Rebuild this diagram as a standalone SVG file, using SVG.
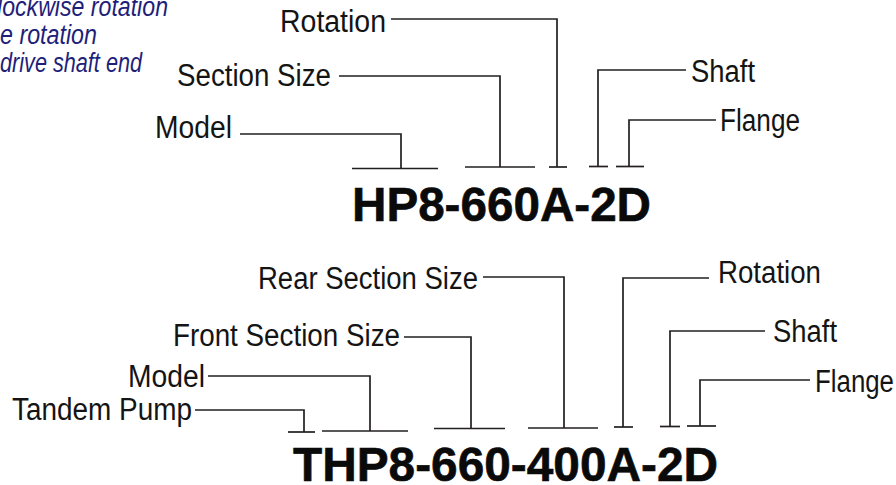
<svg xmlns="http://www.w3.org/2000/svg" width="896" height="485" viewBox="0 0 896 485">
<style>
.lbl{font-family:"Liberation Sans",Arial,sans-serif;font-size:31px;fill:#141414}
.code{font-family:"Liberation Sans",Arial,sans-serif;font-weight:bold;font-size:48px;fill:#0a0a0a;stroke:#0a0a0a;stroke-width:0.6}
.note{font-family:"Liberation Sans",Arial,sans-serif;font-style:italic;font-size:27px;fill:#1f1f7a}
.ln{fill:none;stroke:#231f20;stroke-width:1.7}
</style>
<rect width="896" height="485" fill="#ffffff"/>
<g id="notes">
<text class="note" x="-3" y="16" textLength="171" lengthAdjust="spacingAndGlyphs">lockwise rotation</text>
<text class="note" x="0" y="44" textLength="97" lengthAdjust="spacingAndGlyphs">e rotation</text>
<text class="note" x="0" y="72" textLength="142" lengthAdjust="spacingAndGlyphs">drive shaft end</text>
</g>
<g id="code-hp8">
<text class="code" x="352" y="221" textLength="299" lengthAdjust="spacingAndGlyphs">HP8-660A-2D</text>
</g>
<g id="code-thp8">
<text class="code" x="293" y="481" textLength="425" lengthAdjust="spacingAndGlyphs">THP8-660-400A-2D</text>
</g>
<g id="top-rotation"><text class="lbl" x="280" y="32" textLength="106" lengthAdjust="spacingAndGlyphs">Rotation</text></g>
<g id="top-section-size"><text class="lbl" x="177" y="86" textLength="154" lengthAdjust="spacingAndGlyphs">Section Size</text></g>
<g id="top-model"><text class="lbl" x="155" y="138" textLength="77" lengthAdjust="spacingAndGlyphs">Model</text></g>
<g id="top-shaft"><text class="lbl" x="691" y="82" textLength="64" lengthAdjust="spacingAndGlyphs">Shaft</text></g>
<g id="top-flange"><text class="lbl" x="720" y="131" textLength="80" lengthAdjust="spacingAndGlyphs">Flange</text></g>
<g id="bot-rear-section-size"><text class="lbl" x="258" y="289" textLength="220" lengthAdjust="spacingAndGlyphs">Rear Section Size</text></g>
<g id="bot-front-section-size"><text class="lbl" x="173" y="346" textLength="227" lengthAdjust="spacingAndGlyphs">Front Section Size</text></g>
<g id="bot-model"><text class="lbl" x="128" y="387" textLength="77" lengthAdjust="spacingAndGlyphs">Model</text></g>
<g id="bot-tandem-pump"><text class="lbl" x="12" y="420" textLength="180" lengthAdjust="spacingAndGlyphs">Tandem Pump</text></g>
<g id="bot-rotation"><text class="lbl" x="718" y="283" textLength="103" lengthAdjust="spacingAndGlyphs">Rotation</text></g>
<g id="bot-shaft"><text class="lbl" x="773" y="342" textLength="64" lengthAdjust="spacingAndGlyphs">Shaft</text></g>
<g id="bot-flange"><text class="lbl" x="815" y="392" textLength="79" lengthAdjust="spacingAndGlyphs">Flange</text></g>
<g id="connectors">
<!-- top -->
<path class="ln" d="M391 19 H557 V167"/>
<path class="ln" d="M339 76 H500 V167"/>
<path class="ln" d="M240 134 H401 V168"/>
<path class="ln" d="M686 70 H598 V167"/>
<path class="ln" d="M716 120 H629 V167"/>
<path class="ln" d="M352 168.5 H438"/>
<path class="ln" d="M465 167 H535"/>
<path class="ln" d="M549 167 H567"/>
<path class="ln" d="M589 166.5 H608"/>
<path class="ln" d="M616 166.5 H644"/>
<!-- bottom -->
<path class="ln" d="M483 277 H564 V428"/>
<path class="ln" d="M404 337 H471 V428"/>
<path class="ln" d="M208 376 H370 V431"/>
<path class="ln" d="M195 410 H304 V432"/>
<path class="ln" d="M709 278 H623 V427"/>
<path class="ln" d="M765 331 H670 V427"/>
<path class="ln" d="M810 380 H700 V426"/>
<path class="ln" d="M288 432 H315"/>
<path class="ln" d="M322 431 H408"/>
<path class="ln" d="M434 428.5 H505"/>
<path class="ln" d="M528 428 H598"/>
<path class="ln" d="M614 427 H633"/>
<path class="ln" d="M660 426.5 H680"/>
<path class="ln" d="M687 426 H716"/>
</g>
</svg>
